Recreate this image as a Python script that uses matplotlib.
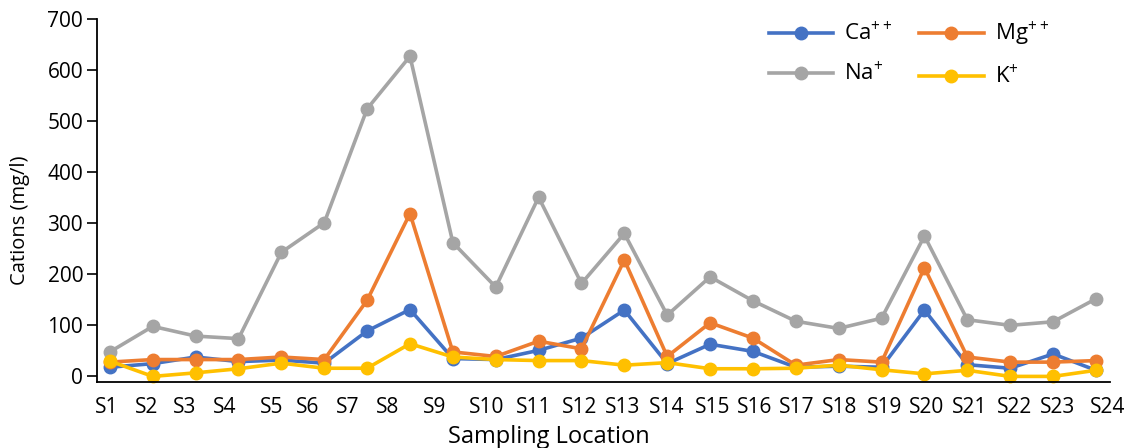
import matplotlib
matplotlib.use('Agg')
import matplotlib.pyplot as plt

plt.rcParams['font.family'] = ['Open Sans', 'DejaVu Sans']
plt.rcParams['mathtext.fontset'] = 'custom'
plt.rcParams['mathtext.rm'] = 'Open Sans'

# sampling locations S1..S24
sites = ['S%d' % i for i in range(1, 25)]

# cation concentrations (mg/l)
ca = [18, 25, 38, 29, 32, 26, 89, 131, 35, 33, 51, 75,
      130, 25, 63, 49, 18, 20, 18, 130, 23, 16, 44, 12]
mg = [28, 33, 33, 33, 38, 33, 149, 319, 48, 39, 69, 54,
      228, 39, 105, 75, 22, 33, 28, 213, 38, 28, 28, 31]
na = [48, 98, 79, 74, 243, 301, 524, 627, 262, 175, 351, 182,
      280, 120, 195, 148, 108, 94, 114, 275, 111, 100, 107, 152]
k = [30, 0, 7, 15, 26, 16, 16, 64, 38, 33, 31, 31,
     22, 27, 15, 15, 16, 22, 13, 5, 12, 0, 0, 12]

# where the x labels sit (they drift a bit from the points in the original)
label_pos = [-0.07, 0.86, 1.75, 2.68, 3.78, 4.62, 5.55, 6.48, 7.58, 8.79,
             9.89, 10.96, 11.97, 12.99, 14.07, 15.05, 16.03, 17.03, 18.08,
             19.06, 20.06, 21.11, 22.11, 23.28]

fig = plt.figure(figsize=(11.36, 4.48), dpi=100)
ax = fig.add_axes([0.0854, 0.1484, 0.8918, 0.8092])

x = list(range(len(sites)))
style = dict(marker='o', linewidth=2.6, markersize=9, clip_on=False)
l_na, = ax.plot(x, na, color='#A5A5A5', label=r'Na$^{+}$', **style)
l_ca, = ax.plot(x, ca, color='#4472C4', label=r'Ca$^{++}$', **style)
l_mg, = ax.plot(x, mg, color='#ED7D31', label=r'Mg$^{++}$', **style)
l_k, = ax.plot(x, k, color='#FFC000', label=r'K$^{+}$', **style)

ax.set_xlim(-0.30, 23.33)
ax.set_ylim(-10, 700)
ax.set_yticks(range(0, 701, 100))
ax.set_xticks(label_pos)
ax.set_xticklabels(sites)
ax.tick_params(axis='x', length=0, pad=11, labelsize=15)
ax.tick_params(axis='y', length=7, width=1.2, pad=3, labelsize=15)

for s in ['top', 'right']:
    ax.spines[s].set_visible(False)
ax.spines['left'].set_linewidth(1.3)
ax.spines['bottom'].set_linewidth(1.3)

ax.set_xlabel('Sampling Location', fontsize=17, va='center')
ax.xaxis.set_label_coords(0.446, -0.153)
ax.set_ylabel('Cations (mg/l)', fontsize=14.5, va='center')
ax.yaxis.set_label_coords(-0.076, 0.4455)

fig.legend(handles=[l_ca, l_na, l_mg, l_k], ncol=2, frameon=False,
           loc='center', bbox_to_anchor=(0.80, 0.879), fontsize=16,
           handlelength=2.9, handletextpad=0.5, columnspacing=1.2,
           labelspacing=0.75)

fig.savefig('out.png', dpi=100)
